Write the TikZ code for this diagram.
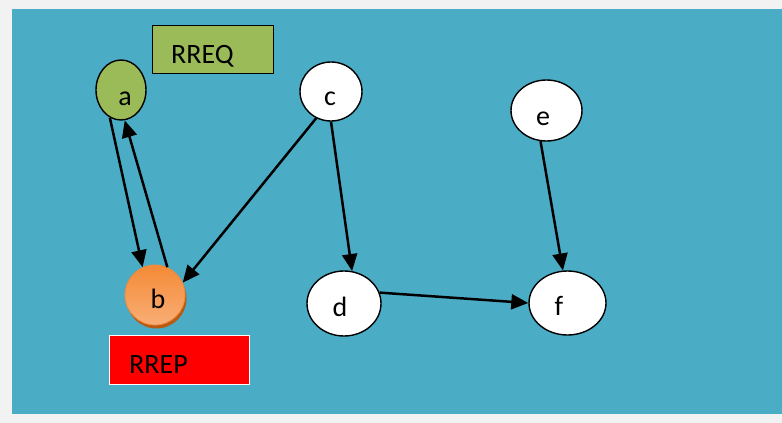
\documentclass[tikz,border=0pt]{standalone}
\usepackage{fontspec}
\setmainfont{Carlito}
\usetikzlibrary{shapes.geometric,arrows.meta}
\definecolor{bgblue}{HTML}{4BACC6}
\definecolor{pgray}{HTML}{F2F2F2}
\definecolor{ogreen}{HTML}{9BBB59}
\definecolor{orTop}{HTML}{F48A36}
\definecolor{orBot}{HTML}{F9AE76}
\definecolor{orRim}{HTML}{B85A12}
\definecolor{orLine}{HTML}{F08A3A}
\tikzset{
  vert/.style={ellipse, draw=black, line width=1.4pt, fill=white, inner sep=0pt},
  lbl/.style={font=\fontsize{28}{31}\selectfont, inner sep=0pt, anchor=base},
  boxlbl/.style={font=\fontsize{28}{31}\selectfont, inner sep=0pt, anchor=base west},
  arr/.style={-{Triangle[length=17pt,width=15pt]}, line width=2.5pt, black},
}
\begin{document}
\begin{tikzpicture}[x=1pt,y=-1pt]
\useasboundingbox (0,0) rectangle (782,423);
\fill[pgray] (0,0) rectangle (782,423);
\fill[bgblue] (12,9) rectangle (782,414);
% RREQ box
\node[draw=black, line width=1.6pt, fill=ogreen, minimum width=121pt, minimum height=48pt, inner sep=0pt] (rreq) at (213,49.5) {};
\node[boxlbl] (trreq) at (171,63) {RREQ};
% RREP box
\node[draw=white, line width=1.2pt, fill=red, minimum width=140pt, minimum height=49pt, inner sep=0pt] (rrep) at (179.5,360) {};
\node[boxlbl] (trrep) at (129,373) {RREP};
% vertices
\node[vert, fill=ogreen, minimum width=50pt, minimum height=60pt] (a) at (121,90) {};
\node[lbl] (ta) at (125,105) {a};
\node[circle, fill=orRim, minimum size=60pt, inner sep=0pt] (bs) at (156.5,298.5) {};
\node[circle, draw=orLine, line width=0.8pt, top color=orTop, bottom color=orBot, minimum size=60pt, inner sep=0pt] (b) at (155,295) {};
\node[lbl] (tb) at (158,308) {b};
\node[vert, minimum width=62pt, minimum height=59pt] (c) at (331,91.5) {};
\node[lbl] (tc) at (330,105) {c};
\node[vert, minimum width=74pt, minimum height=65pt] (d) at (344,303.5) {};
\node[lbl] (td) at (340,316) {d};
\node[vert, minimum width=71pt, minimum height=61pt] (e) at (546.5,110.5) {};
\node[lbl] (te) at (543,125) {e};
\node[vert, minimum width=77pt, minimum height=64pt] (f) at (567.5,303) {};
\node[lbl] (tf) at (559,315) {f};
% edges
\draw[arr] (a.248) -- (b.114);
\draw[arr] (b.66) -- (a.277);
\draw[arr] (c.241) -- (b.24);
\draw[arr] (c.270) -- (d.76);
\draw[arr] (e.259) -- (f.98);
\draw[arr] (d.17) -- (f.180);
\end{tikzpicture}
\end{document}
